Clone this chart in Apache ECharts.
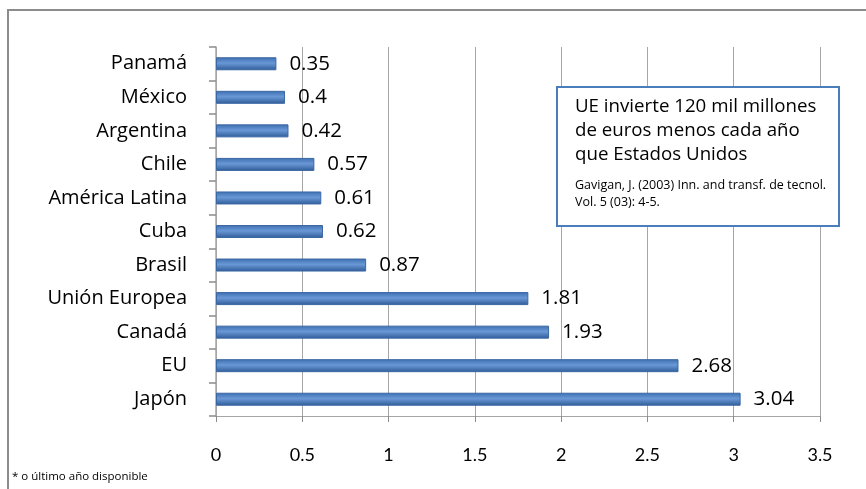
<!DOCTYPE html>
<html>
<head>
<meta charset="utf-8">
<script src="https://cdn.jsdelivr.net/npm/echarts@6/dist/echarts.min.js"></script>
<style>
html,body{margin:0;padding:0;background:#fff;}
#chart{width:866px;height:489px;}
</style>
</head>
<body>
<div id="chart"></div>
<script>
const categories = ['Panamá','México','Argentina','Chile','América Latina','Cuba','Brasil','Unión Europea','Canadá','EU','Japón'];
const values = [0.35,0.4,0.42,0.57,0.61,0.62,0.87,1.81,1.93,2.68,3.04];
const xTicks = [0,0.5,1,1.5,2,2.5,3,3.5];
const noteLines = ['UE invierte 120 mil millones','de euros menos cada año','que Estados Unidos'];
const sourceLines = ['Gavigan, J. (2003) Inn. and transf. de tecnol.','Vol. 5 (03): 4-5.'];
const footnote = '* o último año disponible';

const FONT = '"Open Sans", Lato, sans-serif';
const NARROW = 'Lato, "Open Sans", sans-serif';
const chart = echarts.init(document.getElementById('chart'));
chart.setOption({
  animation:false,
  grid:{left:216,right:46,top:47,bottom:73},
  xAxis:{
    type:'value',min:0,max:3.5,interval:0.5,
    axisLine:{show:true,lineStyle:{color:'#a6a6a6',width:1}},
    axisTick:{show:true,length:6,lineStyle:{color:'#8c8c8c'}},
    axisLabel:{color:'#000',fontSize:18,fontFamily:NARROW,margin:30,
      formatter:v=>xTicks.indexOf(v)>=0?String(v):''},
    splitLine:{show:true,lineStyle:{color:'#a6a6a6',width:1}}
  },
  yAxis:{
    type:'category',data:categories,inverse:true,
    axisLine:{show:true,lineStyle:{color:'#a6a6a6',width:1.5}},
    axisTick:{show:true,length:7,lineStyle:{color:'#8c8c8c',width:1.5}},
    axisLabel:{color:'#000',fontSize:20,fontFamily:FONT,margin:29}
  },
  series:[{
    type:'bar',data:values,barWidth:13,
    itemStyle:{
      color:new echarts.graphic.LinearGradient(0,0,0,1,[
        {offset:0,color:'#3d6eb0'},
        {offset:0.45,color:'#6a98d6'},
        {offset:1,color:'#2f5c98'}
      ]),
      borderColor:'#3b67a3',borderWidth:1
    },
    label:{show:true,position:'right',distance:13,color:'#000',fontSize:20.5,fontFamily:FONT,
      formatter:p=>String(p.value)}
  }],
  graphic:[
    {type:'rect',shape:{x:8,y:10,width:900,height:500},
      style:{fill:'none',stroke:'#8c8c8c',lineWidth:2},silent:true,z:-10},
    {type:'rect',shape:{x:557,y:87,width:282,height:139},
      style:{fill:'#fff',stroke:'#4a7ebb',lineWidth:2},z:10},
    {type:'text',left:575,top:95,z:11,
      style:{text:noteLines.join('\n'),fontSize:18.7,fontFamily:FONT,fill:'#000',lineHeight:24}},
    {type:'text',left:575,top:177,z:11,
      style:{text:sourceLines.join('\n'),fontSize:12.5,fontFamily:FONT,fill:'#000',lineHeight:17}},
    {type:'text',left:12,top:471,
      style:{text:footnote,fontSize:11.5,fontFamily:FONT,fill:'#000'}}
  ]
});
</script>
</body>
</html>
